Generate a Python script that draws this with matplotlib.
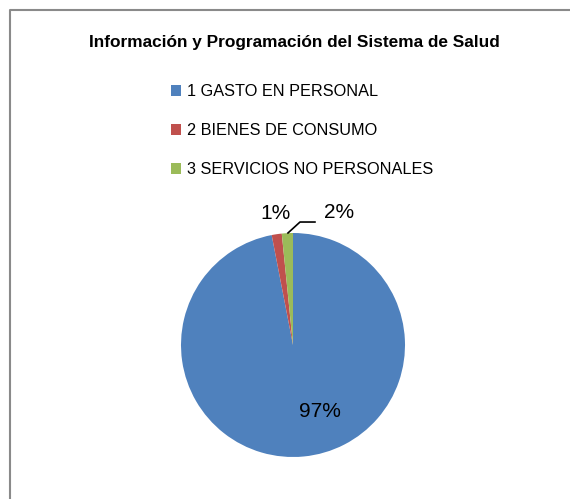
import matplotlib
matplotlib.use('Agg')
import matplotlib.pyplot as plt
from matplotlib.lines import Line2D

# datos
categorias = ['1 GASTO EN PERSONAL', '2 BIENES DE CONSUMO', '3 SERVICIOS NO PERSONALES']
valores = [96.95, 1.45, 1.6]
colores = ['#4F81BD', '#C0504D', '#9BBB59']
titulo = 'Información y Programación del Sistema de Salud'

W, H = 570, 499
fig = plt.figure(figsize=(W / 100, H / 100), dpi=100)
plt.rcParams['font.family'] = ['Liberation Sans', 'DejaVu Sans']

# marco gris: solo se ven el borde izquierdo y el superior
x0, y0 = 9.5 / W, 1 - 9.5 / H
fig.add_artist(Line2D([x0, x0, 1.0], [0.0, y0, y0], transform=fig.transFigure,
                      color='#8a8a8a', lw=1.5))

fig.text(294 / W, 1 - 42 / H, titulo, ha='center', va='center',
         fontsize=12.4, fontweight='bold', color='#000000')

cx, cy, r = 293, 345, 112
ax = fig.add_axes([(cx - r) / W, (H - cy - r) / H, 2 * r / W, 2 * r / H])
wedges, _ = ax.pie(valores, colors=colores, startangle=90, counterclock=False,
                   radius=1, wedgeprops=dict(linewidth=0))
ax.set_xlim(-1, 1)
ax.set_ylim(-1, 1)
ax.set_aspect('equal')
ax.axis('off')

total = sum(valores)
pct = ['{:.0f}%'.format(v / total * 100) for v in valores]
pos = [(0.241, -0.598), (-0.16, 1.17), (0.41, 1.18)]
for p, (x, y) in zip(pct, pos):
    ax.text(x, y, p, ha='center', va='center', fontsize=15,
            color='#000000', clip_on=False)
# linea guia del 2%
ax.plot([-0.045, 0.0625, 0.196], [1.0, 1.098, 1.098], color='black',
        lw=1.2, clip_on=False)

fig.legend(wedges, categorias, loc='upper left',
           bbox_to_anchor=(171 / W, 1 - 84 / H), frameon=False,
           fontsize=11.7, handlelength=0.62, handleheight=0.62,
           handletextpad=0.37, labelspacing=1.48, borderpad=0,
           borderaxespad=0, labelcolor='#000000')

fig.savefig('out.png', dpi=100)
